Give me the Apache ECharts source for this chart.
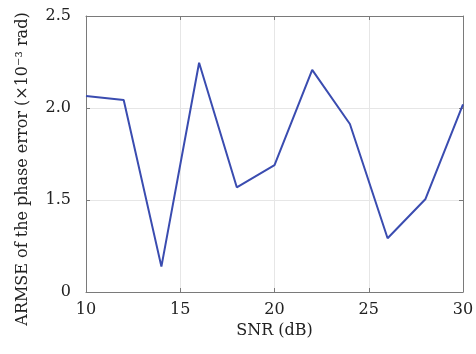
<!DOCTYPE html>
<html>
<head>
<meta charset="utf-8">
<script src="https://cdn.jsdelivr.net/npm/echarts@6/dist/echarts.min.js"></script>
<style>html,body{margin:0;padding:0;background:#fff}#c{width:476px;height:354px}</style>
</head>
<body>
<div id="c"></div>
<script>
var snr = [10, 12, 14, 16, 18, 20, 22, 24, 26, 28, 30];
var armse = [2.065, 2.043, 1.138, 2.246, 1.569, 1.690, 2.207, 1.913, 1.292, 1.504, 2.020];
var xTicks = [10, 15, 20, 25, 30];
var yTickLabels = {'1.0': '0', '1.5': '1.5', '2.0': '2.0', '2.5': '2.5'};

var font = 'DejaVu Serif';
var axisColor = '#7a7a7a';
var chart = echarts.init(document.getElementById('c'));
var common = {
  axisLine: {show: true, lineStyle: {color: axisColor, width: 1}},
  axisTick: {show: true, inside: true, length: 4, lineStyle: {color: axisColor}}
};
chart.setOption({
  animation: false,
  backgroundColor: '#fff',
  grid: {left: 86, right: 13, top: 16, bottom: 62, outerBoundsMode: 'none', containLabel: false},
  xAxis: [{
    type: 'value', min: 10, max: 30, interval: 5,
    axisLine: common.axisLine, axisTick: common.axisTick,
    axisLabel: {color: '#222', fontFamily: font, fontSize: 16, margin: 10},
    splitLine: {show: true, lineStyle: {color: '#e6e6e6', width: 1}},
    name: 'SNR (dB)', nameLocation: 'middle', nameGap: 30,
    nameTextStyle: {color: '#222', fontFamily: font, fontSize: 16}
  }, {
    type: 'value', min: 10, max: 30, interval: 5, position: 'top',
    axisLine: common.axisLine, axisTick: common.axisTick,
    axisLabel: {show: false}, splitLine: {show: false}
  }],
  yAxis: [{
    type: 'value', min: 1.0, max: 2.5, interval: 0.5,
    axisLine: common.axisLine, axisTick: common.axisTick,
    axisLabel: {color: '#222', fontFamily: font, fontSize: 16, margin: 15,
      formatter: function (v) { return yTickLabels[v.toFixed(1)]; }},
    splitLine: {show: true, lineStyle: {color: '#e6e6e6', width: 1}},
    name: 'ARMSE of the phase error (\u00d710\u207b\u00b3 rad)', nameLocation: 'middle', nameGap: 55,
    nameTextStyle: {color: '#222', fontFamily: font, fontSize: 16, padding: [0, 30, 0, 0]}
  }, {
    type: 'value', min: 1.0, max: 2.5, interval: 0.5, position: 'right',
    axisLine: common.axisLine, axisTick: common.axisTick,
    axisLabel: {show: false}, splitLine: {show: false}
  }],
  series: [{
    type: 'line', data: snr.map(function (x, i) { return [x, armse[i]]; }),
    showSymbol: false, symbol: 'none',
    lineStyle: {color: '#3a4cb0', width: 2}
  }]
});
</script>
</body>
</html>
